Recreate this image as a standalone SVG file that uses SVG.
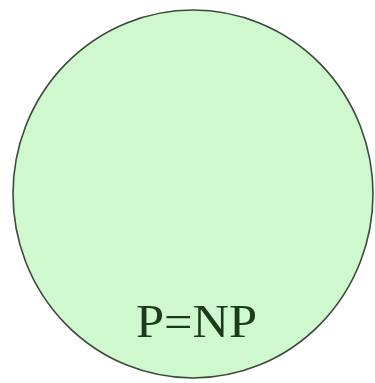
<svg xmlns="http://www.w3.org/2000/svg" width="375" height="383" viewBox="0 0 375 383">
<style>
.set{fill:#cff8cf;stroke:#3c4a3c;stroke-width:1.6}
.lbl{font-family:"Liberation Serif","DejaVu Serif",serif;font-size:46px;fill:#1c3a1c}
</style>
<rect width="375" height="383" fill="#ffffff"/>
<g id="pnp">
<ellipse class="set" cx="193" cy="194" rx="180" ry="184"/>
<text class="lbl" x="136" y="337" textLength="121" lengthAdjust="spacingAndGlyphs">P=NP</text>
</g>
<g id="connectors"/>
</svg>
